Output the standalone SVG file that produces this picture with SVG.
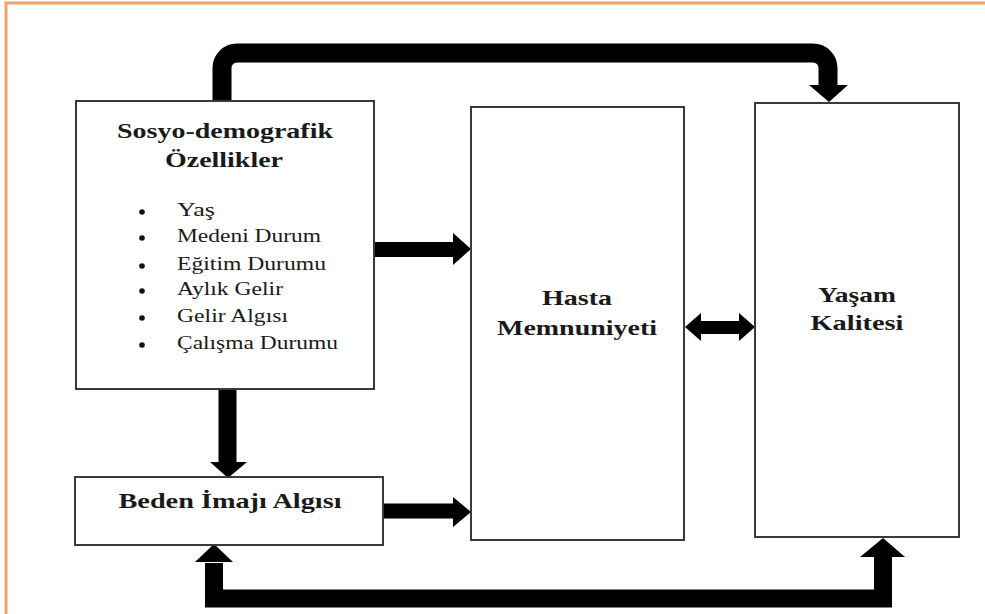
<svg xmlns="http://www.w3.org/2000/svg" width="985" height="614" viewBox="0 0 985 614">
<style>
.box{fill:#fff;stroke:#3a3a3a;stroke-width:2}
.t{font-family:"Liberation Serif","Times New Roman",serif;font-weight:bold;font-size:21px;fill:#1a1a1a;text-anchor:middle}
.i{font-family:"Liberation Serif","Times New Roman",serif;font-size:18px;fill:#1a1a1a}
.c{fill:none;stroke:#000}
.h{fill:#000}
</style>
<rect x="0" y="0" width="985" height="614" fill="#fff"/>
<path d="M6,614 V3 H985" fill="none" stroke="#F2A06A" stroke-width="3"/>
<g id="connectors">
<path class="c" d="M222,101 V68 A15,15 0 0 1 237,53 H813 A15,15 0 0 1 828,68 V86" stroke-width="19"/>
<polygon class="h" points="809,85 848,85 829,102"/>
<path class="c" d="M374,249.5 H454" stroke-width="15"/>
<polygon class="h" points="453,233 453,265 471,249"/>
<path class="c" d="M227.5,389 V463" stroke-width="18"/>
<polygon class="h" points="210,462 247,462 228,478"/>
<path class="c" d="M383,511 H454" stroke-width="15"/>
<polygon class="h" points="453,497 453,527 471,512"/>
<path class="c" d="M698,327.5 H741" stroke-width="13"/>
<polygon class="h" points="685,327 701,313 701,341"/>
<polygon class="h" points="755,327 739,313 739,341"/>
<path class="c" d="M214,563 V598.5 H883 V556" stroke-width="18" stroke-linejoin="miter"/>
<polygon class="h" points="195,562 233,562 214,544"/>
<polygon class="h" points="860,557 905,557 883,538"/>
</g>
<g id="sosyo">
<rect class="box" x="76" y="101" width="298" height="288"/>
<text class="t" x="225" y="138" textLength="216" lengthAdjust="spacingAndGlyphs">Sosyo-demografik</text>
<text class="t" x="224" y="167" textLength="118" lengthAdjust="spacingAndGlyphs">Özellikler</text>
<g fill="#111">
<circle cx="142" cy="212" r="2.8"/>
<circle cx="142" cy="238" r="2.8"/>
<circle cx="142" cy="266" r="2.8"/>
<circle cx="142" cy="291" r="2.8"/>
<circle cx="142" cy="318" r="2.8"/>
<circle cx="142" cy="345" r="2.8"/>
</g>
<text class="i" x="177" y="216" textLength="38" lengthAdjust="spacingAndGlyphs">Yaş</text>
<text class="i" x="177" y="242" textLength="144" lengthAdjust="spacingAndGlyphs">Medeni Durum</text>
<text class="i" x="177" y="270" textLength="149" lengthAdjust="spacingAndGlyphs">Eğitim Durumu</text>
<text class="i" x="177" y="295" textLength="106" lengthAdjust="spacingAndGlyphs">Aylık Gelir</text>
<text class="i" x="177" y="322" textLength="111" lengthAdjust="spacingAndGlyphs">Gelir Algısı</text>
<text class="i" x="177" y="349" textLength="161" lengthAdjust="spacingAndGlyphs">Çalışma Durumu</text>
</g>
<g id="beden">
<rect class="box" x="75" y="477" width="308" height="68"/>
<text class="t" x="230" y="508" textLength="223" lengthAdjust="spacingAndGlyphs">Beden İmajı Algısı</text>
</g>
<g id="hasta">
<rect class="box" x="471" y="107" width="213" height="433"/>
<text class="t" x="577" y="305" textLength="70" lengthAdjust="spacingAndGlyphs">Hasta</text>
<text class="t" x="577" y="335" textLength="160" lengthAdjust="spacingAndGlyphs">Memnuniyeti</text>
</g>
<g id="yasam">
<rect class="box" x="755" y="103" width="204" height="434"/>
<text class="t" x="857" y="302" textLength="78" lengthAdjust="spacingAndGlyphs">Yaşam</text>
<text class="t" x="857" y="330" textLength="93" lengthAdjust="spacingAndGlyphs">Kalitesi</text>
</g>
</svg>
